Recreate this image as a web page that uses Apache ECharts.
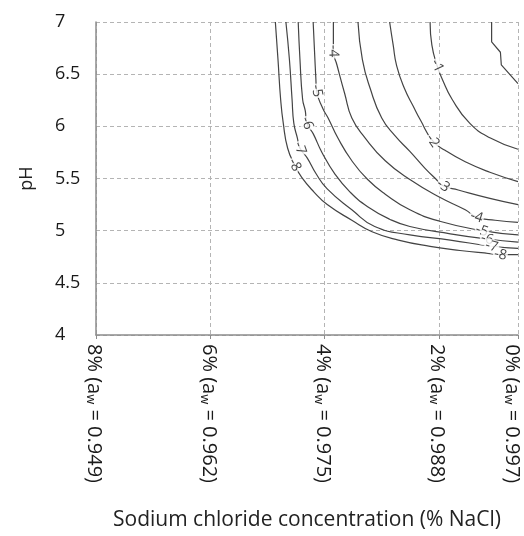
<!DOCTYPE html>
<html><head><meta charset="utf-8">
<script src="https://cdn.jsdelivr.net/npm/echarts@6/dist/echarts.min.js"></script>
<style>html,body{margin:0;padding:0;background:#fff}#c{width:524px;height:536px}</style>
</head><body><div id="c"></div>
<script>
// ---- data ----
const xTicks = [0.949, 0.962, 0.975, 0.988, 0.997];
const xTickPct = ['8%', '6%', '4%', '2%', '0%'];
const xTickAw = ['0.949', '0.962', '0.975', '0.988', '0.997'];
const yTicks = [4, 4.5, 5, 5.5, 6, 6.5, 7];
const contourLevels = [0, -1, -2, -3, -4, -5, -6, -7, -8];
const curve0 = [[0.9940,7.00],[0.9940,6.81],[0.9950,6.71],[0.9951,6.59],[0.9970,6.41]];
const curveM1 = [[0.9870,7.00],[0.9872,6.78],[0.9878,6.58],[0.9884,6.45],[0.9895,6.26],[0.9915,6.03],[0.9938,5.89],[0.9970,5.78]];
const curveM2 = [[0.9824,7.00],[0.9828,6.78],[0.9832,6.58],[0.9841,6.36],[0.9851,6.19],[0.9859,6.06],[0.9873,5.86],[0.9887,5.77],[0.9910,5.66],[0.9938,5.56],[0.9970,5.47]];
const curveM3 = [[0.9788,7.00],[0.9793,6.64],[0.9802,6.36],[0.9815,6.08],[0.9830,5.91],[0.9847,5.76],[0.9864,5.60],[0.9876,5.50],[0.9885,5.43],[0.9902,5.39],[0.9938,5.31],[0.9970,5.25]];
const curveM4 = [[0.9760,7.00],[0.9760,6.72],[0.9764,6.59],[0.9773,6.31],[0.9781,6.08],[0.9796,5.89],[0.9819,5.67],[0.9847,5.49],[0.9881,5.32],[0.9910,5.20],[0.9923,5.13],[0.9944,5.10],[0.9970,5.08]];
const curveM5 = [[0.9737,7.00],[0.9739,6.64],[0.9740,6.47],[0.9741,6.34],[0.9748,6.17],[0.9754,6.08],[0.9765,5.89],[0.9781,5.67],[0.9799,5.49],[0.9819,5.35],[0.9847,5.20],[0.9881,5.09],[0.9929,5.00],[0.9970,4.96]];
const curveM6 = [[0.9720,7.00],[0.9722,6.64],[0.9725,6.26],[0.9728,6.15],[0.9730,6.03],[0.9737,5.93],[0.9747,5.75],[0.9762,5.54],[0.9779,5.37],[0.9799,5.23],[0.9824,5.11],[0.9847,5.04],[0.9893,4.97],[0.9935,4.92],[0.9970,4.89]];
const curveM7 = [[0.9706,7.00],[0.9710,6.64],[0.9713,6.26],[0.9715,6.03],[0.9719,5.89],[0.9722,5.79],[0.9730,5.70],[0.9740,5.55],[0.9753,5.40],[0.9781,5.20],[0.9807,5.04],[0.9847,4.96],[0.9893,4.91],[0.9940,4.85],[0.9970,4.83]];
const curveM8 = [[0.9694,7.00],[0.9697,6.64],[0.9700,6.26],[0.9703,6.03],[0.9708,5.79],[0.9716,5.63],[0.9724,5.51],[0.9738,5.37],[0.9753,5.25],[0.9781,5.10],[0.9804,4.99],[0.9834,4.91],[0.9870,4.85],[0.9904,4.81],[0.9938,4.78],[0.9950,4.77],[0.9970,4.77]];
const curves = [curve0, curveM1, curveM2, curveM3, curveM4, curveM5, curveM6, curveM7, curveM8];

// ---- label placement (which curve point carries an inline label, and its angle) ----
const labelPlacement = [
  {curve:1, idx:2, rot:-65}, {curve:2, idx:6, rot:-55}, {curve:3, idx:8, rot:-35},
  {curve:4, idx:1, rot:-88}, {curve:4, idx:10, rot:-18},
  {curve:5, idx:3, rot:-80}, {curve:5, idx:12, rot:-18},
  {curve:6, idx:4, rot:-72}, {curve:6, idx:13, rot:-15},
  {curve:7, idx:5, rot:-70}, {curve:7, idx:13, rot:-15},
  {curve:8, idx:5, rot:-62}, {curve:8, idx:15, rot:-12}
];

const FONT = 'Open Sans';
const chart = echarts.init(document.getElementById('c'), null, {renderer: 'canvas'});

function nearestTick(v) {
  let best = 0;
  xTicks.forEach((t, i) => { if (Math.abs(t - v) < Math.abs(xTicks[best] - v)) best = i; });
  return best;
}

const series = curves.map((c, k) => ({
  type: 'line',
  name: String(contourLevels[k]),
  data: c,
  showSymbol: false,
  smooth: k === 0 ? false : 0.5,
  lineStyle: {color: '#444', width: 1.2},
  silent: true,
  z: 2
}));

series.push({
  type: 'scatter',
  symbolSize: 0,
  silent: true,
  z: 5,
  data: labelPlacement.map(p => ({
    value: curves[p.curve][p.idx],
    label: {rotate: p.rot, formatter: String(contourLevels[p.curve])}
  })),
  label: {
    show: true, position: 'inside', color: '#111', fontSize: 14, fontFamily: FONT,
    backgroundColor: '#fff', padding: [0, 1]
  }
});

chart.setOption({
  animation: false,
  backgroundColor: '#fff',
  grid: {left: 96, right: 6, top: 22, bottom: 196, containLabel: false},
  xAxis: {
    type: 'value', min: xTicks[0], max: xTicks[xTicks.length - 1], interval: 0.013,
    name: 'Sodium chloride concentration (% NaCl)', nameLocation: 'middle', nameGap: 175,
    nameTextStyle: {fontSize: 21, color: '#222', fontFamily: FONT},
    axisLine: {show: true, lineStyle: {color: '#8c8c8c', width: 1.5}},
    axisTick: {show: true, length: 4, lineStyle: {color: '#8c8c8c'}},
    splitLine: {show: true, lineStyle: {color: '#b4b4b4', type: [4, 3], width: 1}},
    axisLabel: {
      rotate: -90, margin: 9, color: '#1a1a1a', fontFamily: FONT,
      formatter: v => {
        const i = nearestTick(v);
        const last = i === xTicks.length - 1;
        const base = xTickPct[i] + ' (a';
        return (last ? '{g| }' : '') + '{n|' + base + '}{s|w}{n| = ' + xTickAw[i] + ')}';
      },
      rich: {
        n: {fontSize: 20, lineHeight: 24, verticalAlign: 'bottom', fontFamily: FONT, color: '#1a1a1a'},
        s: {fontSize: 13, lineHeight: 13, verticalAlign: 'bottom', fontFamily: FONT, color: '#1a1a1a'},
        g: {fontSize: 1, lineHeight: 32}
      }
    }
  },
  yAxis: {
    type: 'value', min: yTicks[0], max: yTicks[yTicks.length - 1], interval: 0.5,
    name: 'pH', nameLocation: 'middle', nameGap: 60,
    nameTextStyle: {fontSize: 18, color: '#222', fontFamily: FONT},
    axisLine: {show: true, lineStyle: {color: '#8c8c8c', width: 1.5}},
    axisTick: {show: false},
    splitLine: {show: true, lineStyle: {color: '#b4b4b4', type: [4, 3], width: 1}},
    axisLabel: {align: 'left', margin: 41, fontSize: 18, color: '#1a1a1a', fontFamily: FONT}
  },
  series
});
</script></body></html>
